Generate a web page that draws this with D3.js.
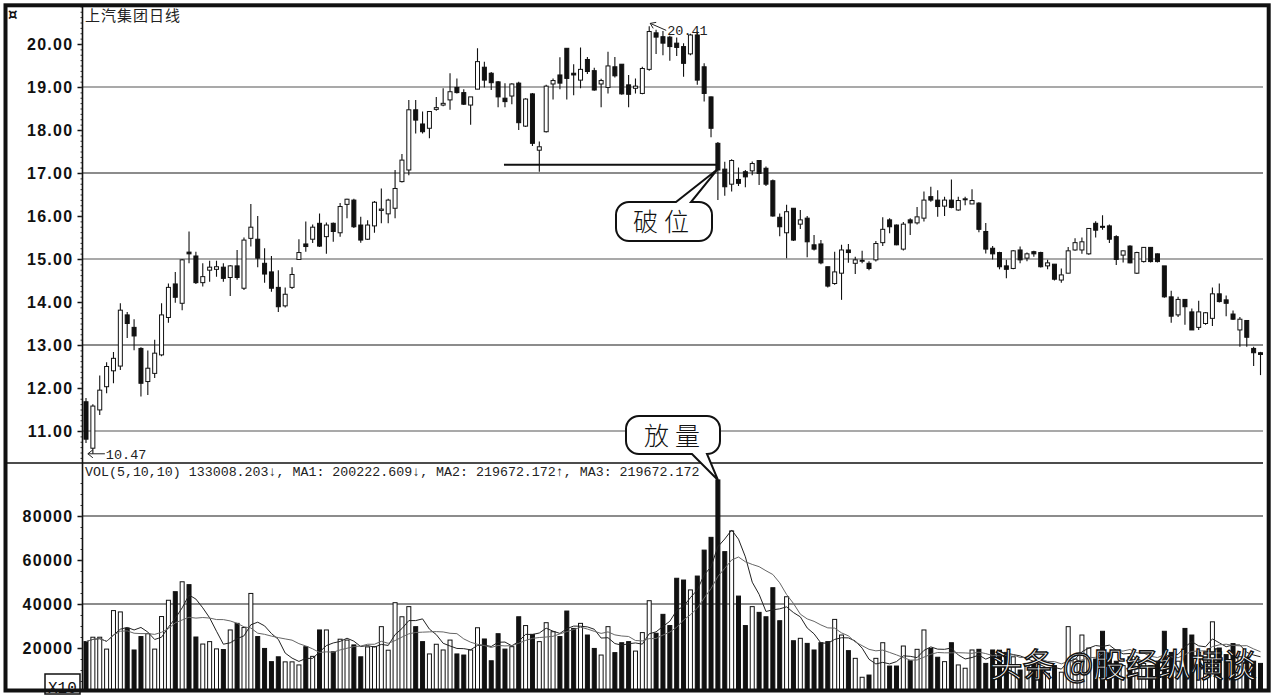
<!DOCTYPE html>
<html><head><meta charset="utf-8">
<script src="https://cdn.jsdelivr.net/npm/d3@7"></script>
<style>html,body{margin:0;padding:0;background:#fff;overflow:hidden}svg{display:block}</style>
</head><body>
<script>
// ---------------- data ----------------
const openP = [11.68,10.60,11.49,12.03,12.40,12.51,13.70,13.41,12.92,12.15,12.34,12.77,13.64,14.42,13.97,15.16,15.07,14.45,14.74,14.76,
14.81,14.57,14.84,14.32,15.48,15.46,14.90,14.70,14.34,13.91,14.34,14.99,15.35,15.46,15.83,15.52,15.83,15.61,16.27,16.37,
15.79,15.46,15.77,16.13,16.05,16.18,16.80,17.07,18.47,18.14,18.04,18.48,18.58,18.70,18.99,18.87,18.58,18.95,19.46,19.32,
19.12,18.74,18.79,19.09,18.09,18.84,17.53,17.96,19.07,19.28,19.90,19.32,19.16,19.64,19.38,19.07,18.99,19.47,19.53,19.05,
18.97,18.85,19.41,20.26,20.17,20.16,20.02,19.94,19.77,20.21,19.47,18.77,17.69,17.09,16.74,16.85,17.03,17.05,17.29,17.11,
16.82,15.97,15.61,16.18,15.81,15.95,15.33,15.35,14.82,14.43,14.67,15.21,14.90,14.95,14.90,14.98,15.38,15.91,15.79,15.23,
15.91,15.84,15.95,16.45,16.37,16.23,16.37,16.14,16.38,16.28,16.30,15.64,15.25,15.15,14.84,14.78,15.21,15.02,15.17,15.15,
14.84,14.88,14.51,14.67,15.21,15.21,15.12,15.83,15.76,15.77,15.52,15.09,15.30,14.67,14.94,15.27,15.12,14.84,14.12,13.70,
14.06,13.77,13.41,13.50,13.62,14.19,14.05,13.72,13.35,13.57,12.92,12.82];
const highP = [11.77,11.62,12.29,12.60,12.84,13.97,13.77,13.60,12.95,12.87,13.12,13.97,14.43,14.70,15.00,15.64,15.17,14.90,14.96,14.96,
14.90,14.86,15.21,15.50,16.28,16.00,15.25,15.07,14.74,14.34,14.81,15.46,15.87,15.80,16.06,15.85,15.85,16.30,16.40,16.40,
15.98,15.90,16.35,16.64,16.40,17.07,17.44,18.70,18.70,18.43,18.43,18.77,18.97,19.32,19.20,18.95,18.77,19.90,19.59,19.35,
19.14,19.09,19.09,19.12,18.74,18.86,17.73,19.05,19.20,19.69,19.90,19.53,19.92,19.70,19.45,19.19,19.82,19.70,19.53,19.28,
19.20,19.47,20.41,20.33,20.30,20.19,20.15,20.02,20.24,20.29,19.55,18.78,17.72,17.26,17.32,17.13,17.07,17.27,17.29,17.15,
16.85,16.06,16.26,16.18,16.14,16.00,15.56,15.44,14.82,15.17,15.33,15.35,15.05,15.19,14.95,15.42,15.97,15.95,15.80,15.86,
15.95,16.21,16.57,16.68,16.60,16.45,16.85,16.45,16.45,16.62,16.32,15.84,15.30,15.17,14.98,15.21,15.29,15.15,15.19,15.17,
14.98,14.88,14.78,15.28,15.48,15.50,15.71,15.88,16.02,15.80,15.55,15.20,15.32,15.17,15.28,15.28,15.13,14.84,14.26,14.12,
14.06,13.85,14.03,13.77,14.34,14.43,14.15,13.80,13.65,13.57,12.96,12.84];
const lowP = [10.72,10.47,11.37,11.88,12.11,12.42,13.16,12.88,11.80,11.84,12.23,12.74,13.52,13.98,13.81,14.90,14.42,14.36,14.47,14.59,
14.47,14.14,14.52,14.28,15.29,14.81,14.45,14.24,13.77,13.87,14.30,14.99,15.17,15.37,15.28,15.12,15.40,15.52,15.95,15.72,
15.38,15.44,15.61,15.83,15.83,15.95,16.78,16.95,17.92,17.92,17.81,18.45,18.55,18.47,18.85,18.58,18.12,18.95,18.99,18.93,
18.53,18.53,18.60,18.00,18.07,17.63,17.03,17.94,18.71,18.95,18.71,18.81,18.97,19.30,18.91,18.53,18.85,19.22,18.82,18.53,
18.85,18.83,19.38,19.77,19.74,19.61,19.72,19.24,19.74,19.05,18.66,17.83,16.37,16.47,16.57,16.70,16.67,16.95,16.72,16.70,
15.98,15.53,15.02,15.42,15.70,15.04,15.20,14.88,14.34,14.40,14.05,14.91,14.65,14.90,14.74,14.94,15.30,15.60,15.32,15.20,
15.56,15.80,15.87,16.33,15.98,16.00,16.18,16.12,16.25,16.28,15.62,15.13,14.99,14.76,14.55,14.76,14.90,14.95,15.05,14.80,
14.76,14.50,14.45,14.67,15.19,15.12,15.10,15.50,15.68,15.37,14.86,14.92,14.90,14.65,14.92,14.92,14.92,14.10,13.52,13.65,
13.47,13.35,13.35,13.47,13.44,13.99,13.67,13.58,12.96,12.96,12.51,12.30];
const closeP = [10.81,11.58,11.95,12.50,12.69,13.81,13.50,13.21,12.11,12.46,12.81,13.70,14.34,14.11,14.98,15.12,14.45,14.59,14.81,14.82,
14.55,14.84,14.57,15.44,15.74,15.02,14.65,14.32,13.89,14.18,14.64,15.15,15.29,15.74,15.30,15.79,15.64,16.22,16.39,15.75,
15.44,15.79,16.32,16.16,16.37,16.64,17.30,18.47,18.23,17.96,18.43,18.52,18.62,18.89,18.87,18.60,18.77,19.59,19.16,19.10,
18.77,18.66,19.07,18.17,18.72,17.69,17.61,19.02,19.15,19.09,19.20,19.28,19.41,19.36,18.93,19.15,19.49,19.26,18.84,18.83,
19.02,19.43,20.29,20.16,20.02,19.94,19.92,19.55,20.21,19.16,18.85,18.04,17.07,16.68,17.29,16.76,16.91,17.22,16.99,16.74,
16.00,15.75,16.10,15.44,15.91,15.40,15.23,14.91,14.37,14.70,15.21,15.15,14.98,14.97,14.78,15.36,15.69,15.75,15.33,15.81,
15.84,15.98,16.37,16.37,16.22,16.37,16.20,16.36,16.40,16.36,15.69,15.23,15.12,14.82,14.76,15.19,14.98,15.12,15.12,14.82,
14.91,14.53,14.63,15.19,15.38,15.40,15.71,15.67,15.74,15.46,14.99,15.19,14.91,15.15,15.27,14.94,14.94,14.12,13.67,14.06,
13.89,13.35,13.77,13.75,14.19,14.01,13.97,13.60,13.60,13.18,12.82,12.78];
const volume = [22900,24900,24900,19500,37000,36400,29000,19100,25200,26500,19500,34300,41700,45600,50100,48800,25000,21800,22900,19600,
19300,28200,31200,29300,44800,25200,19800,13800,16000,13700,13700,12300,20600,16200,28200,28200,18300,24000,23600,21400,
16000,20500,20600,29700,19000,40600,34200,38800,29700,22900,17300,21700,19100,23600,17300,16800,19100,29200,24100,14200,
26500,19500,20600,34200,30200,26200,22900,31500,27400,25200,36800,28900,31200,25900,19800,16800,29700,17900,22400,22900,
18600,27000,41500,26700,35300,30200,51700,50900,46400,52700,64500,70300,96400,63800,73200,43600,30200,38800,36200,34200,
47400,32400,43300,23300,24400,22100,19100,22400,22900,33000,25900,18800,15300,6700,7700,15300,22400,11800,11800,20900,
14200,19400,28200,19800,15800,13800,22400,12300,10800,19100,19400,13000,19100,19000,18000,16000,10000,13000,12500,10000,
8500,12000,9000,29700,15000,25900,20000,15000,27600,18000,14000,12000,16000,15000,13000,12000,14000,27600,18000,14000,
28900,25900,18000,16000,31900,20000,17000,22000,16000,15000,14000,13000];

const priceTicks = [11,12,13,14,15,16,17,18,19,20];
const priceGrid = [11,13,15,17,19];
const volTicks = [20000,40000,60000,80000];
const volGrid = [40000,80000];
const maPeriods = [5,10];
const titleText = "上汽集团日线";
const volLabel = "VOL(5,10,10) 133008.203↓, MA1: 200222.609↓, MA2: 219672.172↑, MA3: 219672.172";
const supportLevel = 17.19, supportFrom = 61, supportTo = 92;
const breakIdx = 92;
const noteBreak = "破位", noteVol = "放量";
const watermark = "头条 @股经纵横谈";

// ---------------- layout ----------------
const W = 1276, H = 699;
const L = 82.5, R = 1263, PT = 6, SEP = 463, VB = 691;
const N = openP.length;
const x = d3.scaleLinear().domain([0, N - 1]).range([86, 1260.5]);
const yP = d3.scaleLinear().domain([11, 20]).range([431, 44]);
const yV = d3.scaleLinear().domain([0, 80000]).range([692, 516]);

const svg = d3.select("body").append("svg").attr("width", W).attr("height", H)
  .style("font-family", "'Liberation Sans', Arial, sans-serif");
svg.append("rect").attr("width", W).attr("height", H).attr("fill", "#fff");

const defs = svg.append("defs");
defs.append("clipPath").attr("id", "pc").append("rect").attr("x", L).attr("y", PT).attr("width", R - L).attr("height", SEP - PT);
defs.append("clipPath").attr("id", "vc").append("rect").attr("x", L).attr("y", SEP).attr("width", R - L).attr("height", VB - SEP);

// grids
svg.append("g").selectAll("line").data(priceGrid).join("line")
  .attr("x1", L).attr("x2", R).attr("y1", d => yP(d)).attr("y2", d => yP(d))
  .attr("stroke", "#8c8c8c").attr("stroke-width", d => (d === 13 || d === 17) ? 2 : 1.3);
svg.append("g").selectAll("line").data(volGrid).join("line")
  .attr("x1", L).attr("x2", R).attr("y1", d => yV(d)).attr("y2", d => yV(d))
  .attr("stroke", "#8c8c8c").attr("stroke-width", 2);

// candles
const idx = d3.range(N);
const up = i => closeP[i] >= openP[i];
const cg = svg.append("g").attr("clip-path", "url(#pc)");
cg.selectAll("line").data(idx).join("line")
  .attr("x1", i => x(i)).attr("x2", i => x(i))
  .attr("y1", i => yP(highP[i])).attr("y2", i => yP(lowP[i]))
  .attr("stroke", "#111").attr("stroke-width", 1.1);
cg.selectAll("rect").data(idx).join("rect")
  .attr("x", i => x(i) - 2).attr("width", 4)
  .attr("y", i => yP(Math.max(openP[i], closeP[i])))
  .attr("height", i => Math.max(1, Math.abs(yP(openP[i]) - yP(closeP[i]))))
  .attr("fill", i => up(i) ? "#fff" : "#111").attr("stroke", "#111").attr("stroke-width", 1);

// support line
svg.append("line").attr("x1", x(supportFrom) - 1).attr("x2", x(supportTo))
  .attr("y1", yP(supportLevel)).attr("y2", yP(supportLevel))
  .attr("stroke", "#111").attr("stroke-width", 2);

// volume bars
const vg = svg.append("g").attr("clip-path", "url(#vc)");
vg.selectAll("rect").data(idx).join("rect")
  .attr("x", i => x(i) - 2).attr("width", 4)
  .attr("y", i => yV(volume[i])).attr("height", i => yV(0) - yV(volume[i]))
  .attr("fill", i => up(i) ? "#fff" : "#111").attr("stroke", "#111").attr("stroke-width", 1);

// volume MAs
function ma(arr, n) { return arr.map((v, i) => d3.mean(arr.slice(Math.max(0, i - n + 1), i + 1))); }
const maColors = ["#222", "#666"];
maPeriods.forEach((p, k) => {
  vg.append("path").datum(ma(volume, p))
    .attr("d", d3.line().x((d, i) => x(i)).y(d => yV(d)).curve(d3.curveLinear))
    .attr("fill", "none").attr("stroke", maColors[k]).attr("stroke-width", 1);
});

// axes
function styleAxis(g) {
  g.select(".domain").remove();
  g.selectAll(".tick line").attr("stroke", "#111").attr("stroke-width", 1.5);
  g.selectAll(".tick text").attr("font-family", "'Liberation Sans', Arial, sans-serif")
    .attr("font-weight", "bold").attr("font-size", 16).attr("fill", "#111")
    .style("letter-spacing", "1.3px");
}
svg.append("g").attr("transform", `translate(${L},0)`)
  .call(d3.axisLeft(yP).tickValues(priceTicks).tickFormat(d3.format(".2f")).tickSize(5).tickPadding(4))
  .call(styleAxis);
svg.append("g").attr("transform", `translate(${L},0)`)
  .call(d3.axisLeft(yV).tickValues(volTicks).tickFormat(d3.format("d")).tickSize(5).tickPadding(4))
  .call(styleAxis);
// minor dotted ticks
const minorP = d3.range(10.375, 20.9, 0.125);
const minorV = d3.range(5000, 100000, 5000);
svg.append("g").attr("transform", `translate(${L},0)`)
  .call(d3.axisLeft(yP).tickValues(minorP).tickFormat("").tickSize(2))
  .call(g => { g.select(".domain").remove(); g.selectAll(".tick line").attr("stroke", "#333"); });
svg.append("g").attr("transform", `translate(${L},0)`)
  .call(d3.axisLeft(yV).tickValues(minorV).tickFormat("").tickSize(2))
  .call(g => { g.select(".domain").remove(); g.selectAll(".tick line").attr("stroke", "#333"); });

// axis line & separator
svg.append("line").attr("x1", L).attr("x2", L).attr("y1", PT).attr("y2", VB).attr("stroke", "#111").attr("stroke-width", 1.6);
svg.append("line").attr("x1", 5).attr("x2", R).attr("y1", SEP).attr("y2", SEP).attr("stroke", "#111").attr("stroke-width", 1.6);

// texts
svg.append("text").attr("x", 8).attr("y", 20).attr("font-size", 15).attr("font-weight", "bold").attr("fill", "#111")
  .attr("font-family", "'DejaVu Sans', sans-serif").text("¤");
svg.append("text").attr("x", 85).attr("y", 21).attr("font-size", 15).attr("fill", "#222")
  .attr("font-family", "'Noto Sans CJK SC', sans-serif").style("letter-spacing", "1px").text(titleText);
svg.append("text").attr("x", 85).attr("y", 476).attr("font-size", 13.3).attr("fill", "#222")
  .attr("font-family", "'Liberation Mono', 'DejaVu Sans Mono', monospace").text(volLabel);

// high / low markers
const hi = d3.maxIndex(highP), lo = d3.minIndex(lowP);
const monoF = "'Liberation Mono', 'DejaVu Sans Mono', monospace";
{
  const hx = x(hi), hy = yP(highP[hi]);
  svg.append("path").attr("d", `M${hx + 1},${hy - 3} L${hx + 17},${hy + 4} M${hx + 1},${hy - 3} l6,-1 M${hx + 1},${hy - 3} l3,5`)
    .attr("stroke", "#222").attr("fill", "none").attr("stroke-width", 1);
  svg.append("text").attr("x", hx + 18).attr("y", hy + 9).attr("font-size", 13.5).attr("fill", "#222")
    .attr("font-family", monoF).text(d3.format(".2f")(highP[hi]));
  const lx = x(lo), ly = yP(lowP[lo]);
  svg.append("path").attr("d", `M${lx - 5},${ly} L${lx + 12},${ly} M${lx - 5},${ly} l5,-4 M${lx - 5},${ly} l5,4`)
    .attr("stroke", "#222").attr("fill", "none").attr("stroke-width", 1);
  svg.append("text").attr("x", lx + 13).attr("y", ly + 5).attr("font-size", 13.5).attr("fill", "#222")
    .attr("font-family", monoF).text(d3.format(".2f")(lowP[lo]));
}

// callout bubbles
function bubbleTop(x0, y0, w, h, r, b1, b2, tx, ty) {
  const x1 = x0 + w, y1 = y0 + h;
  return `M${x0 + r},${y0} L${b1},${y0} L${tx},${ty} L${b2},${y0} L${x1 - r},${y0} A${r},${r} 0 0 1 ${x1},${y0 + r} L${x1},${y1 - r} A${r},${r} 0 0 1 ${x1 - r},${y1} L${x0 + r},${y1} A${r},${r} 0 0 1 ${x0},${y1 - r} L${x0},${y0 + r} A${r},${r} 0 0 1 ${x0 + r},${y0} Z`;
}
function bubbleBottom(x0, y0, w, h, r, b1, b2, tx, ty) {
  const x1 = x0 + w, y1 = y0 + h;
  return `M${x0 + r},${y0} L${x1 - r},${y0} A${r},${r} 0 0 1 ${x1},${y0 + r} L${x1},${y1 - r} A${r},${r} 0 0 1 ${x1 - r},${y1} L${b2},${y1} L${tx},${ty} L${b1},${y1} L${x0 + r},${y1} A${r},${r} 0 0 1 ${x0},${y1 - r} L${x0},${y0 + r} A${r},${r} 0 0 1 ${x0 + r},${y0} Z`;
}
const bx = x(breakIdx);
svg.append("path").attr("d", bubbleTop(616, 202, 96, 39, 13, 676, 691, bx, yP(closeP[breakIdx]) - 1))
  .attr("fill", "#fff").attr("stroke", "#111").attr("stroke-width", 2);
svg.append("text").attr("x", 664).attr("y", 231).attr("text-anchor", "middle").attr("font-size", 25)
  .attr("font-family", "'Noto Sans CJK SC', sans-serif").attr("font-weight", 300).attr("fill", "#111")
  .style("letter-spacing", "6px").text(noteBreak);
svg.append("path").attr("d", bubbleBottom(626, 416, 94, 38, 13, 692, 707, bx, yV(volume[breakIdx])))
  .attr("fill", "#fff").attr("stroke", "#111").attr("stroke-width", 2);
svg.append("text").attr("x", 675).attr("y", 445).attr("text-anchor", "middle").attr("font-size", 25)
  .attr("font-family", "'Noto Sans CJK SC', sans-serif").attr("font-weight", 300).attr("fill", "#111")
  .style("letter-spacing", "6px").text(noteVol);

// X10 box
svg.append("rect").attr("x", 45).attr("y", 674).attr("width", 35).attr("height", 20)
  .attr("fill", "#fff").attr("stroke", "#111").attr("stroke-width", 1.5);
svg.append("text").attr("x", 48).attr("y", 693).attr("font-size", 16).attr("fill", "#111")
  .attr("font-family", monoF).text("X10");

// watermark
svg.append("text").attr("x", 990).attr("y", 677).attr("font-size", 33)
  .attr("font-family", "'Noto Sans CJK SC', sans-serif").attr("fill", "#fff")
  .attr("stroke", "#111").attr("stroke-width", 1.4).attr("textLength", 266).attr("lengthAdjust", "spacingAndGlyphs")
  .text(watermark);

// frame
svg.append("rect").attr("x", 5.5).attr("y", 5.3).attr("width", 1263.2).attr("height", 685.2)
  .attr("fill", "none").attr("stroke", "#111").attr("stroke-width", 4);
</script>
</body></html>
